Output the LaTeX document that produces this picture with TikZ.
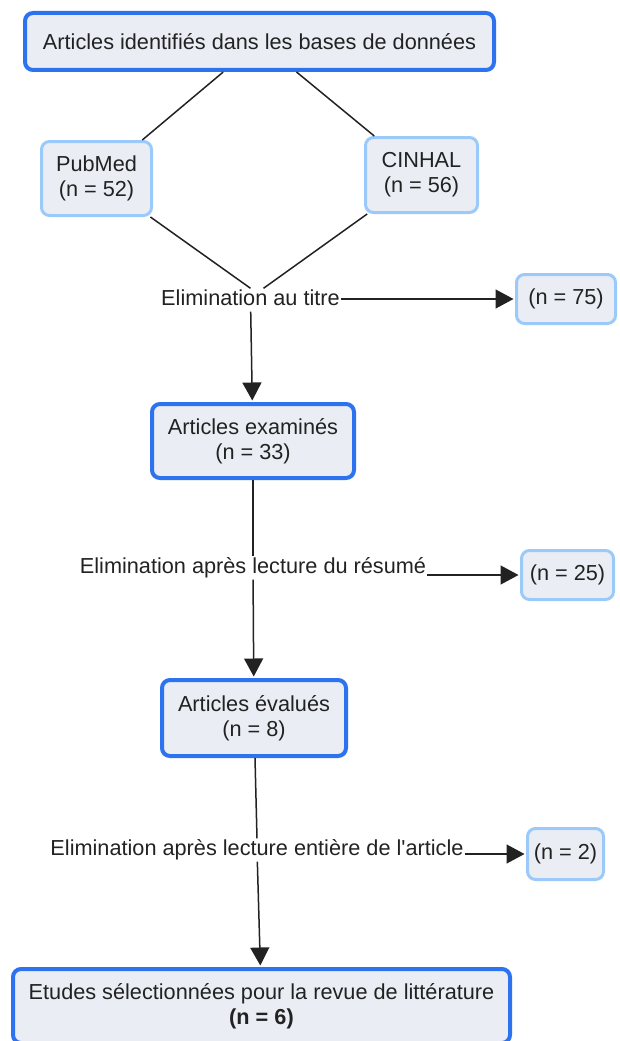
\documentclass[tikz,border=0pt]{standalone}
\usepackage{fontspec}
\setmainfont{Liberation Sans}
\usetikzlibrary{arrows.meta}

\definecolor{boxfill}{RGB}{234,238,244}
\definecolor{darkblue}{RGB}{45,115,240}
\definecolor{paleblue}{RGB}{155,202,250}
\definecolor{inkgray}{RGB}{34,34,34}

\begin{document}
\begin{tikzpicture}[x=1pt, y=-1pt,
  font=\fontsize{21.7}{25}\selectfont, text=inkgray,
  mainbox/.style={draw=darkblue, line width=4pt, fill=boxfill, rounded corners=8pt, align=center, inner sep=0pt},
  sidebox/.style={draw=paleblue, line width=3pt, fill=boxfill, rounded corners=8pt, align=center, inner sep=0pt},
  elim/.style={inner sep=1pt, text height=16pt, text depth=5pt},
  link/.style={draw=inkgray, line width=1.5pt},
  arr/.style={link, shorten >=1.5pt, -{Triangle[length=18pt, width=19pt]}}]
\useasboundingbox (0, 0) rectangle (619, 1041);

% sources
\node [mainbox, minimum width=469pt, minimum height=57pt] (ident) at (259.5, 41.5) {Articles identifiés dans les bases de données};
\node [sidebox, minimum width=110pt, minimum height=74pt] (pubmed) at (96.5, 178.5) {PubMed\\(n = 52)};
\node [sidebox, minimum width=112pt, minimum height=75pt] (cinhal) at (421.5, 175) {CINHAL\\(n = 56)};

% first screening
\node [elim] (elim1) at (250.5, 300) {Elimination au titre};
\node [sidebox, minimum width=99pt, minimum height=49pt] (n75) at (566, 299) {(n = 75)};
\node [mainbox, minimum width=202pt, minimum height=74pt] (examines) at (253, 441) {Articles examinés\\(n = 33)};

% second screening
\node [elim] (elim2) at (253, 568) {Elimination après lecture du résumé};
\node [sidebox, minimum width=92pt, minimum height=49pt] (n25) at (567.5, 575) {(n = 25)};
\node [mainbox, minimum width=184pt, minimum height=76pt] (evalues) at (254, 718) {Articles évalués\\(n = 8)};

% third screening
\node [elim] (elim3) at (257, 850) {Elimination après lecture entière de l\textquotesingle article};
\node [sidebox, minimum width=76pt, minimum height=51pt] (n2) at (565.5, 854) {(n = 2)};
\node [mainbox, minimum width=497pt, minimum height=74pt] (final) at (261.5, 1006) {Etudes sélectionnées pour la revue de littérature\\\textbf{(n = 6)}};

\draw [link] (ident) -- (pubmed);
\draw [link] (ident) -- (cinhal);
\draw [link] (pubmed) -- (elim1.north);
\draw [link] (cinhal) -- ([xshift=13pt]elim1.north);
\draw [arr] (elim1) -- (examines);
\draw [arr] (elim1.east |- n75.west) -- (n75.west);

\draw [link] (examines) -- (elim2.north);
\draw [arr] (elim2) -- (evalues);
\draw [arr] (elim2.east |- n25.west) -- (n25.west);

\draw [link] (evalues) -- (elim3.north);
\draw [arr] (elim3) -- (final);
\draw [arr] (elim3.east |- n2.west) -- (n2.west);

\end{tikzpicture}
\end{document}
